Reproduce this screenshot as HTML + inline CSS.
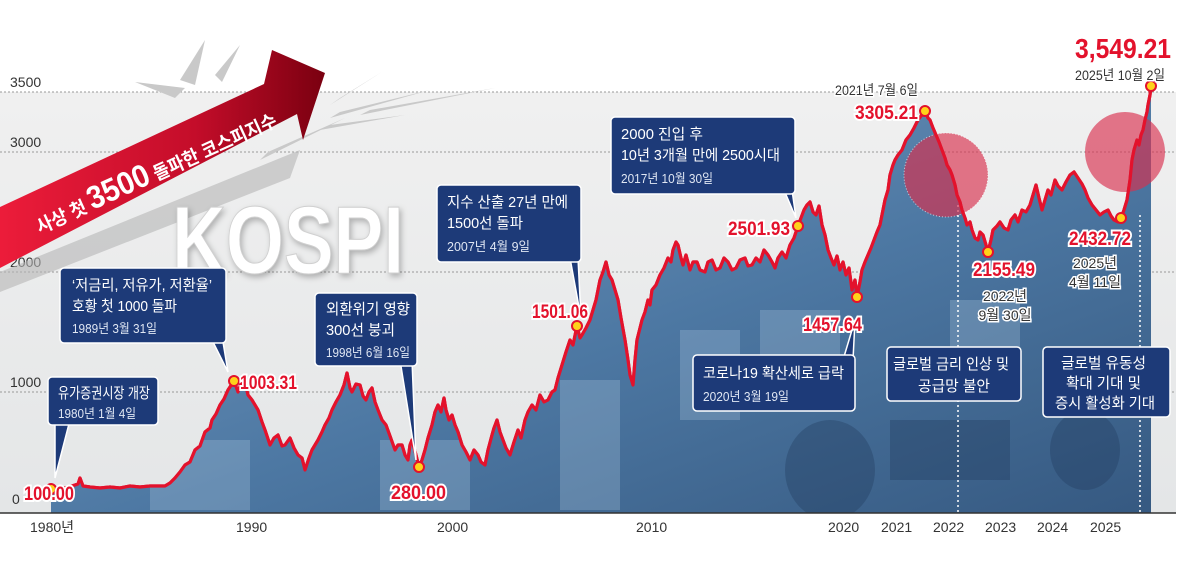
<!DOCTYPE html>
<html><head><meta charset="utf-8"><style>
html,body{margin:0;padding:0;background:#fff;}
svg{display:block;font-family:"Liberation Sans","Noto Sans CJK KR",sans-serif;}
.bx{fill:#1d3a78;stroke:#fff;stroke-width:1.5}
.bt{fill:#fff;font-size:15px;}
.bd{fill:#dfe6f3;font-size:13px;}
.rl{fill:#e3122c;font-weight:bold;font-size:19px;stroke:#fff;stroke-width:4;paint-order:stroke;}
.dk{fill:#333;font-size:14px;stroke:#fff;stroke-width:3;paint-order:stroke;}
.ax{fill:#333;font-size:14px;}
.mk{fill:#ffd21a;stroke:#e3122c;stroke-width:2}
</style></head><body>
<svg width="1200" height="564" viewBox="0 0 1200 564">
<defs>
<linearGradient id="bg" x1="0" y1="0" x2="0" y2="1"><stop offset="0" stop-color="#f0f0f0"/><stop offset="1" stop-color="#e4e6e7"/></linearGradient>
<linearGradient id="fl" x1="0" y1="0" x2="1" y2="1"><stop offset="0" stop-color="#7fa2c6"/><stop offset="0.55" stop-color="#4d78a3"/><stop offset="1" stop-color="#34577f"/></linearGradient>
<linearGradient id="ar" x1="0" y1="0" x2="1" y2="0"><stop offset="0" stop-color="#ec1c3a"/><stop offset="0.6" stop-color="#c40d2a"/><stop offset="1" stop-color="#7a0010"/></linearGradient>
</defs>
<rect x="0" y="92" width="1176" height="421" fill="url(#bg)"/>
<g stroke="#999" stroke-dasharray="2,2" stroke-width="1">
<line x1="0" y1="92" x2="1176" y2="92"/><line x1="0" y1="152" x2="1176" y2="152"/><line x1="0" y1="272" x2="1176" y2="272"/><line x1="0" y1="392" x2="1176" y2="392"/>
</g>
<g class="ax"><text x="10" y="87">3500</text><text x="10" y="147">3000</text><text x="10" y="267">2000</text><text x="10" y="387">1000</text><text x="12" y="504">0</text></g>

<g fill="#c9c9c9">
<polygon points="135,82 175,98 185,88"/><polygon points="180,80 205,40 195,85"/><polygon points="215,75 240,45 222,82"/>
<polygon points="330,105 385,70 340,98"/><polygon points="330,118 430,90 340,112"/><polygon points="360,115 495,88 370,110"/>
<polygon points="260,160 345,118 268,152"/><polygon points="320,130 405,115 330,125"/>
</g>
<polygon points="0,272 300,150 290,178 0,292" fill="#b5b5b5" opacity="0.6"/>
<polygon points="0,207 264,84 272,50 325,73 303,140 297,114 0,268" fill="url(#ar)"/>
<text transform="translate(40,234) rotate(-24.5)" fill="#fff" font-weight="bold" font-size="19" textLength="262" lengthAdjust="spacingAndGlyphs">사상 첫 <tspan font-size="32">3500</tspan> 돌파한 코스피지수</text>
<text x="172" y="273" font-size="96" font-weight="bold" fill="#fff" stroke="#d0d0d0" stroke-width="1" textLength="232" lengthAdjust="spacingAndGlyphs" style="filter:drop-shadow(2px 3px 3px rgba(0,0,0,0.25))">KOSPI</text>

<path id="cv" fill="none" stroke="#e3122c" stroke-width="3.2" stroke-linejoin="round" d="M51,489 L60,487 65,488 72,486 78,484 80,478 83,486 90,487 100,488 110,487 120,488 130,486 140,487 150,486 165,486 170,483 175,478 180,472 185,465 190,462 195,450 200,446 205,432 210,428 212,420 216,414 220,405 224,399 228,390 234,381 238,392 241,384 245,383 248,395 252,400 258,410 262,422 265,430 270,445 274,438 278,435 282,446 285,445 290,438 294,448 298,455 302,458 305,470 309,458 312,450 318,440 322,432 325,425 329,418 332,410 336,402 340,395 344,385 347,373 350,388 352,392 356,384 360,385 363,396 366,400 369,392 372,388 375,402 378,410 382,420 386,425 390,436 395,450 398,445 402,445 405,455 408,460 410,445 412,440 416,455 419,467 422,460 425,450 428,438 432,425 435,412 438,405 441,412 444,398 446,410 449,420 452,415 455,425 458,432 462,445 466,452 470,460 474,450 478,455 481,462 485,465 488,450 492,435 494,428 497,420 500,432 503,440 506,448 510,455 514,442 518,430 521,438 525,420 528,412 532,405 536,410 540,395 544,402 548,400 552,392 555,390 558,378 562,365 566,352 570,340 573,345 577,326 580,338 582,335 586,328 590,320 593,310 596,300 598,290 600,280 603,272 606,262 609,275 612,280 615,290 618,300 621,318 625,340 628,360 630,375 633,385 635,360 637,340 640,328 642,320 645,312 648,300 650,305 652,290 656,285 660,275 664,268 668,258 671,262 673,250 676,242 678,245 681,258 683,265 686,255 690,270 693,262 697,262 700,270 705,272 708,262 712,260 716,270 720,268 724,258 728,262 732,270 736,268 740,260 745,258 748,266 752,265 756,258 760,262 764,250 768,255 772,262 775,268 778,258 782,252 786,258 790,245 794,238 798,226 801,218 804,210 807,205 810,202 813,212 816,215 819,206 822,225 825,235 828,250 831,258 834,265 837,256 840,270 843,262 846,275 849,268 852,290 855,280 857,297 860,282 862,270 865,262 868,255 871,248 874,240 877,232 880,225 882,215 885,200 888,190 890,175 893,165 895,160 898,155 902,150 906,140 910,135 914,128 918,120 921,116 925,111 928,118 930,120 933,128 936,135 939,142 942,150 945,158 947,165 950,170 952,175 955,185 957,195 960,202 962,210 965,218 967,225 970,222 972,230 975,238 978,240 980,232 983,235 986,245 988,252 991,240 993,230 997,226 1000,222 1004,228 1008,230 1011,220 1015,215 1018,222 1022,210 1026,212 1030,205 1033,195 1036,185 1039,198 1042,210 1045,200 1048,190 1051,195 1055,180 1058,186 1062,190 1066,182 1070,175 1074,172 1078,178 1082,184 1085,190 1088,198 1092,205 1096,210 1100,215 1104,212 1108,210 1111,216 1114,220 1118,222 1121,218 1124,210 1127,200 1130,180 1132,160 1134,150 1137,140 1139,145 1141,135 1143,130 1145,120 1147,112 1148,105 1150,95 1151,86"/>
<clipPath id="cp"><path d="M51,513 L51,489 L60,487 65,488 72,486 78,484 80,478 83,486 90,487 100,488 110,487 120,488 130,486 140,487 150,486 165,486 170,483 175,478 180,472 185,465 190,462 195,450 200,446 205,432 210,428 212,420 216,414 220,405 224,399 228,390 234,381 238,392 241,384 245,383 248,395 252,400 258,410 262,422 265,430 270,445 274,438 278,435 282,446 285,445 290,438 294,448 298,455 302,458 305,470 309,458 312,450 318,440 322,432 325,425 329,418 332,410 336,402 340,395 344,385 347,373 350,388 352,392 356,384 360,385 363,396 366,400 369,392 372,388 375,402 378,410 382,420 386,425 390,436 395,450 398,445 402,445 405,455 408,460 410,445 412,440 416,455 419,467 422,460 425,450 428,438 432,425 435,412 438,405 441,412 444,398 446,410 449,420 452,415 455,425 458,432 462,445 466,452 470,460 474,450 478,455 481,462 485,465 488,450 492,435 494,428 497,420 500,432 503,440 506,448 510,455 514,442 518,430 521,438 525,420 528,412 532,405 536,410 540,395 544,402 548,400 552,392 555,390 558,378 562,365 566,352 570,340 573,345 577,326 580,338 582,335 586,328 590,320 593,310 596,300 598,290 600,280 603,272 606,262 609,275 612,280 615,290 618,300 621,318 625,340 628,360 630,375 633,385 635,360 637,340 640,328 642,320 645,312 648,300 650,305 652,290 656,285 660,275 664,268 668,258 671,262 673,250 676,242 678,245 681,258 683,265 686,255 690,270 693,262 697,262 700,270 705,272 708,262 712,260 716,270 720,268 724,258 728,262 732,270 736,268 740,260 745,258 748,266 752,265 756,258 760,262 764,250 768,255 772,262 775,268 778,258 782,252 786,258 790,245 794,238 798,226 801,218 804,210 807,205 810,202 813,212 816,215 819,206 822,225 825,235 828,250 831,258 834,265 837,256 840,270 843,262 846,275 849,268 852,290 855,280 857,297 860,282 862,270 865,262 868,255 871,248 874,240 877,232 880,225 882,215 885,200 888,190 890,175 893,165 895,160 898,155 902,150 906,140 910,135 914,128 918,120 921,116 925,111 928,118 930,120 933,128 936,135 939,142 942,150 945,158 947,165 950,170 952,175 955,185 957,195 960,202 962,210 965,218 967,225 970,222 972,230 975,238 978,240 980,232 983,235 986,245 988,252 991,240 993,230 997,226 1000,222 1004,228 1008,230 1011,220 1015,215 1018,222 1022,210 1026,212 1030,205 1033,195 1036,185 1039,198 1042,210 1045,200 1048,190 1051,195 1055,180 1058,186 1062,190 1066,182 1070,175 1074,172 1078,178 1082,184 1085,190 1088,198 1092,205 1096,210 1100,215 1104,212 1108,210 1111,216 1114,220 1118,222 1121,218 1124,210 1127,200 1130,180 1132,160 1134,150 1137,140 1139,145 1141,135 1143,130 1145,120 1147,112 1148,105 1150,95 1151,86 L1151,513 Z"/></clipPath>
<g clip-path="url(#cp)">
<rect x="0" y="80" width="1200" height="440" fill="url(#fl)"/>
<g fill="#a9c2dc" opacity="0.3">
<rect x="150" y="440" width="100" height="70"/><rect x="380" y="440" width="90" height="70"/><rect x="560" y="380" width="60" height="130"/>
<rect x="680" y="330" width="60" height="90"/><rect x="760" y="310" width="80" height="60"/><rect x="950" y="300" width="70" height="70"/>
</g>
<g fill="#203a5c" opacity="0.35"><ellipse cx="830" cy="470" rx="45" ry="50"/><ellipse cx="1085" cy="450" rx="35" ry="40"/><rect x="890" y="420" width="120" height="60"/></g>
</g>
<g stroke="#fff" stroke-dasharray="2,3" stroke-width="1.5"><line x1="958" y1="205" x2="958" y2="513"/><line x1="1140" y1="215" x2="1140" y2="513"/></g>
<circle cx="946" cy="175" r="42" fill="#d9304e" opacity="0.65" stroke="#fff" stroke-dasharray="1,2"/>
<circle cx="1125" cy="152" r="40" fill="#d9304e" opacity="0.65"/>
<use href="#cv"/>
<line x1="0" y1="513" x2="1176" y2="513" stroke="#333" stroke-width="1.5"/>
<g class="ax"><text x="30" y="532">1980년</text><text x="236" y="532">1990</text><text x="437" y="532">2000</text><text x="636" y="532">2010</text><text x="828" y="532">2020</text><text x="881" y="532">2021</text><text x="933" y="532">2022</text><text x="985" y="532">2023</text><text x="1037" y="532">2024</text><text x="1090" y="532">2025</text></g>

<polygon points="55,420 70,420 55,478" class="bx"/>
<rect x="48" y="377" width="110" height="48" rx="4" class="bx"/>
<text x="58" y="398" class="bt" textLength="92" lengthAdjust="spacingAndGlyphs">유가증권시장 개장</text><text x="58" y="418" class="bd" textLength="78" lengthAdjust="spacingAndGlyphs">1980년 1월 4일</text>
<polygon points="210,336 222,336 228,372" class="bx"/>
<rect x="60" y="268" width="166" height="75" rx="4" class="bx"/>
<text x="72" y="290" class="bt" textLength="140" lengthAdjust="spacingAndGlyphs">‘저금리, 저유가, 저환율’</text><text x="72" y="311" class="bt" textLength="105" lengthAdjust="spacingAndGlyphs">호황 첫 1000 돌파</text><text x="72" y="333" class="bd" textLength="85" lengthAdjust="spacingAndGlyphs">1989년 3월 31일</text>
<polygon points="400,360 412,360 416,460" class="bx"/>
<rect x="315" y="293" width="102" height="73" rx="4" class="bx"/>
<text x="326" y="314" class="bt" textLength="84" lengthAdjust="spacingAndGlyphs">외환위기 영향</text><text x="326" y="335" class="bt" textLength="69" lengthAdjust="spacingAndGlyphs">300선 붕괴</text><text x="326" y="357" class="bd" textLength="84" lengthAdjust="spacingAndGlyphs">1998년 6월 16일</text>
<polygon points="570,258 578,258 581,318" class="bx"/>
<rect x="437" y="185" width="144" height="77" rx="4" class="bx"/>
<text x="447" y="207" class="bt" textLength="121" lengthAdjust="spacingAndGlyphs">지수 산출 27년 만에</text><text x="447" y="228" class="bt" textLength="76" lengthAdjust="spacingAndGlyphs">1500선 돌파</text><text x="447" y="251" class="bd" textLength="83" lengthAdjust="spacingAndGlyphs">2007년 4월 9일</text>
<polygon points="784,190 792,190 796,218" class="bx"/>
<rect x="611" y="117" width="184" height="77" rx="4" class="bx"/>
<text x="621" y="139" class="bt" textLength="82" lengthAdjust="spacingAndGlyphs">2000 진입 후</text><text x="621" y="160" class="bt" textLength="159" lengthAdjust="spacingAndGlyphs">10년 3개월 만에 2500시대</text><text x="621" y="183" class="bd" textLength="92" lengthAdjust="spacingAndGlyphs">2017년 10월 30일</text>
<polygon points="843,360 853,360 855,320" class="bx"/>
<rect x="693" y="355" width="162" height="56" rx="4" class="bx"/>
<text x="703" y="378" class="bt" textLength="141" lengthAdjust="spacingAndGlyphs">코로나19 확산세로 급락</text><text x="703" y="401" class="bd" textLength="86" lengthAdjust="spacingAndGlyphs">2020년 3월 19일</text>
<rect x="887" y="347" width="134" height="54" rx="4" class="bx"/>
<text x="893" y="369" class="bt" textLength="116" lengthAdjust="spacingAndGlyphs">글로벌 금리 인상 및</text><text x="918" y="391" class="bt" textLength="72" lengthAdjust="spacingAndGlyphs">공급망 불안</text>
<rect x="1043" y="347" width="127" height="70" rx="4" class="bx"/>
<text x="1061" y="368" class="bt" textLength="85" lengthAdjust="spacingAndGlyphs">글로벌 유동성</text><text x="1066" y="388" class="bt" textLength="75" lengthAdjust="spacingAndGlyphs">확대 기대 및</text><text x="1055" y="408" class="bt" textLength="100" lengthAdjust="spacingAndGlyphs">증시 활성화 기대</text>

<g class="mk"><circle cx="51" cy="489" r="5"/><circle cx="234" cy="381" r="5"/><circle cx="419" cy="467" r="5"/><circle cx="577" cy="326" r="5"/><circle cx="798" cy="226" r="5"/><circle cx="857" cy="297" r="5"/><circle cx="925" cy="111" r="5"/><circle cx="988" cy="252" r="5"/><circle cx="1121" cy="218" r="5"/><circle cx="1151" cy="86" r="5"/></g>
<g class="rl">
<text x="24" y="500" textLength="50" lengthAdjust="spacingAndGlyphs">100.00</text>
<text x="240" y="389" textLength="57" lengthAdjust="spacingAndGlyphs">1003.31</text>
<text x="391" y="499" textLength="55" lengthAdjust="spacingAndGlyphs">280.00</text>
<text x="532" y="318" textLength="56" lengthAdjust="spacingAndGlyphs">1501.06</text>
<text x="728" y="235" textLength="62" lengthAdjust="spacingAndGlyphs">2501.93</text>
<text x="803" y="331" textLength="59" lengthAdjust="spacingAndGlyphs">1457.64</text>
<text x="855" y="119" textLength="63" lengthAdjust="spacingAndGlyphs">3305.21</text>
<text x="973" y="276" textLength="62" lengthAdjust="spacingAndGlyphs">2155.49</text>
<text x="1069" y="245" textLength="62" lengthAdjust="spacingAndGlyphs">2432.72</text>
<text x="1075" y="58" font-size="28" textLength="96" lengthAdjust="spacingAndGlyphs">3,549.21</text>
</g>
<g class="dk">
<text x="835" y="95" textLength="83" lengthAdjust="spacingAndGlyphs">2021년 7월 6일</text>
<text x="1075" y="80" textLength="90" lengthAdjust="spacingAndGlyphs">2025년 10월 2일</text>
<text x="1005" y="301" text-anchor="middle">2022년</text><text x="1005" y="320" text-anchor="middle">9월 30일</text>
<text x="1095" y="268" text-anchor="middle">2025년</text><text x="1095" y="287" text-anchor="middle">4월 11일</text>
</g>
</svg>
</body></html>
